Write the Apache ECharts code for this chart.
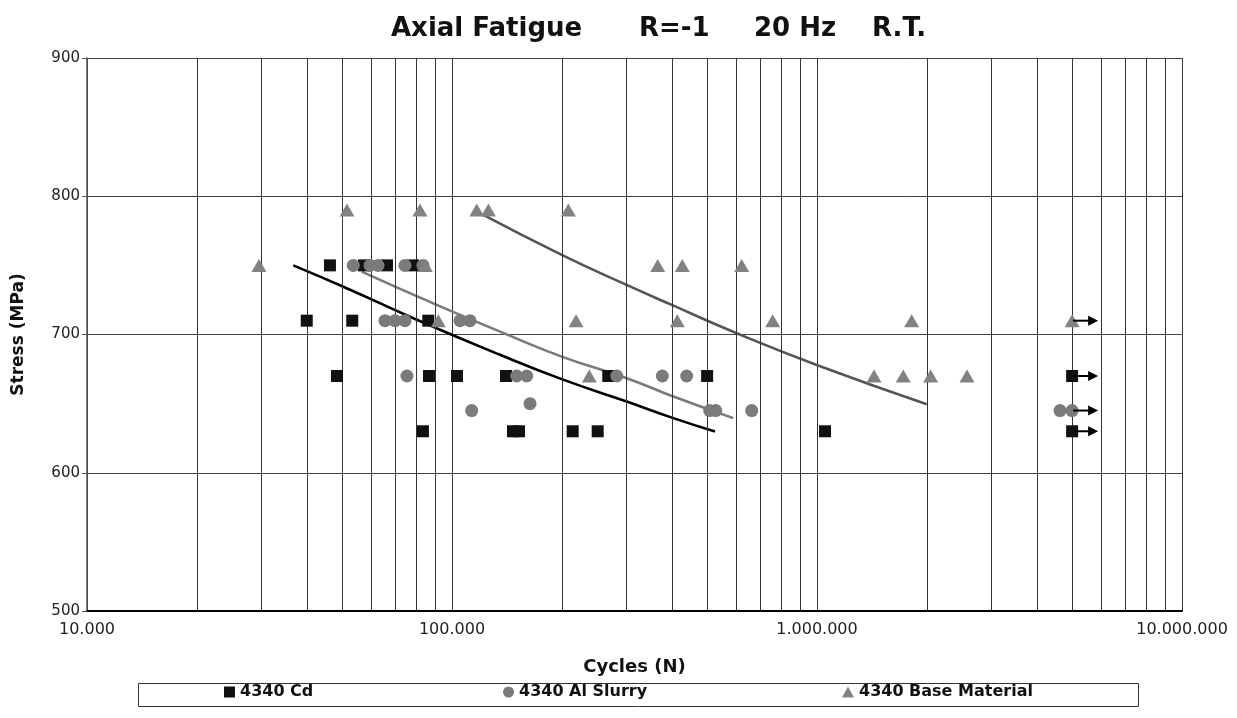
<!DOCTYPE html>
<html>
<head>
<meta charset="utf-8">
<script src="https://cdn.jsdelivr.net/npm/echarts@6/dist/echarts.min.js"></script>
<style>html,body{margin:0;padding:0;background:#fff;}#c{width:1237px;height:718px;}</style>
</head>
<body>
<div id="c"></div>
<script>
// ---- data ----
const cdCycles = [46300, 57400, 66350, 78200, 40000, 53300, 86100, 48400, 86500, 103200, 140600, 268000, 500000, 5000000, 83250, 146900, 152600, 214100, 250700, 1052000, 5000000];
const cdStress = [750, 750, 750, 750, 710, 710, 710, 670, 670, 670, 670, 670, 670, 670, 630, 630, 630, 630, 630, 630, 630];

const alCycles = [53650, 59630, 62700, 74330, 83250, 65530, 69800, 74330, 105200, 112000, 75270, 150400, 160200, 282700, 376900, 439500, 163600, 113200, 508000, 528000, 662300, 4633000, 5000000];
const alStress = [750, 750, 750, 750, 750, 710, 710, 710, 710, 710, 670, 670, 670, 670, 670, 670, 650, 645, 645, 645, 645, 645, 645];

const baseCycles = [51560, 81700, 116900, 125800, 208300, 29590, 84500, 366100, 427500, 621900, 91730, 218700, 414300, 756000, 1817000, 5000000, 237800, 1433000, 1723000, 2048000, 2576000];
const baseStress = [790, 790, 790, 790, 790, 750, 750, 750, 750, 750, 710, 710, 710, 710, 710, 710, 670, 670, 670, 670, 670];

const cdTrendCycles = [36740, 51460, 78340, 135400, 199800, 301000, 404000, 525500];
const cdTrendStress = [750, 733.5, 711.8, 685.3, 667.7, 651.5, 639.5, 629.8];

const alTrendCycles = [56560, 90800, 135400, 199800, 301000, 404000, 589700];
const alTrendStress = [745.5, 721.4, 702.1, 684.0, 668.4, 655.1, 639.5];

const baseTrendCycles = [121800, 199800, 297800, 400000, 602600, 998000, 1998000];
const baseTrendStress = [786.5, 757.6, 736.4, 721.4, 700.9, 678.0, 649.6];

const runoutCycles = [5000000, 5000000, 5000000, 5000000];
const runoutStress = [710, 670, 645, 630];

const minorGridCycles = [20000, 30000, 40000, 50000, 60000, 70000, 80000, 90000,
  200000, 300000, 400000, 500000, 600000, 700000, 800000, 900000,
  2000000, 3000000, 4000000, 5000000, 6000000, 7000000, 8000000, 9000000];

const yTicks = [500, 600, 700, 800, 900];
const titleParts = ['Axial Fatigue', 'R=-1', '20 Hz', 'R.T.'];

// ---- helpers ----
const zip = (a, b) => a.map((v, i) => [v, b[i]]);
const dotFmt = v => Math.round(v).toString().replace(/\B(?=(\d{3})+(?!\d))/g, '.');

const FONT = '"DejaVu Sans", Verdana, sans-serif';
const titleX = [391, 639, 754, 872];

const chart = echarts.init(document.getElementById('c'), null, {renderer: 'canvas'});

const legendText = {fontFamily: FONT, fontWeight: 'bold', fontSize: 16, color: '#111'};

const option = {
  backgroundColor: '#ffffff',
  animation: false,
  textStyle: {fontFamily: FONT},
  grid: {left: 87, right: 55, top: 58, bottom: 107, containLabel: false},
  xAxis: {
    type: 'log', logBase: 10, min: 10000, max: 10000000,
    name: 'Cycles (N)', nameLocation: 'middle', nameGap: 47,
    nameTextStyle: {fontFamily: FONT, fontWeight: 'bold', fontSize: 18, color: '#111'},
    axisLine: {show: true, onZero: false, lineStyle: {color: '#000', width: 2}},
    axisTick: {show: false},
    axisLabel: {formatter: dotFmt, fontFamily: FONT, fontSize: 16, color: '#222', margin: 11},
    splitLine: {show: true, lineStyle: {color: '#333', width: 1}}
  },
  yAxis: {
    type: 'value', min: yTicks[0], max: yTicks[yTicks.length - 1], interval: 100,
    name: 'Stress (MPa)', nameLocation: 'middle', nameGap: 60, nameRotate: 90,
    nameTextStyle: {fontFamily: FONT, fontWeight: 'bold', fontSize: 17, color: '#111'},
    axisLine: {show: true, lineStyle: {color: '#555', width: 1.5}},
    axisTick: {show: true, inside: false, length: 5, lineStyle: {color: '#555'}},
    axisLabel: {fontFamily: FONT, fontSize: 15, color: '#222', margin: 7},
    splitLine: {show: true, lineStyle: {color: '#444', width: 1}}
  },
  legend: [
    {data: ['4340 Cd'], left: 224, top: 684, itemWidth: 11, itemHeight: 11, itemGap: 4, padding: 0, textStyle: legendText},
    {data: ['4340 Al Slurry'], left: 503, top: 684, itemWidth: 11, itemHeight: 11, itemGap: 4, padding: 0, textStyle: legendText},
    {data: ['4340 Base Material'], left: 842, top: 684, itemWidth: 12, itemHeight: 11, itemGap: 4, padding: 0, textStyle: legendText}
  ],
  graphic: [
    {type: 'rect', left: 136, top: 681, z: 0, silent: true,
      shape: {width: 1000, height: 23}, style: {fill: 'none', stroke: '#333', lineWidth: 1}}
  ].concat(titleParts.map((t, i) => ({
    type: 'text', left: titleX[i], top: 16, z: 10, silent: true,
    style: {text: t, fill: '#111', font: 'bold 26px ' + FONT}
  }))),
  series: [
    {
      name: 'minorGrid', type: 'line', data: [], silent: true, z: 1,
      markLine: {
        silent: true, symbol: ['none', 'none'], label: {show: false},
        lineStyle: {color: '#333', width: 1, type: 'solid'},
        emphasis: {disabled: true},
        data: minorGridCycles.map(v => ({xAxis: v}))
      }
    },
    {
      name: 'cdTrend', type: 'line', data: zip(cdTrendCycles, cdTrendStress), smooth: true,
      showSymbol: false, symbol: 'none', silent: true, z: 4,
      lineStyle: {color: '#000', width: 2.6}
    },
    {
      name: 'alTrend', type: 'line', data: zip(alTrendCycles, alTrendStress), smooth: true,
      showSymbol: false, symbol: 'none', silent: true, z: 4,
      lineStyle: {color: '#7a7a7a', width: 2.6}
    },
    {
      name: 'baseTrend', type: 'line', data: zip(baseTrendCycles, baseTrendStress), smooth: true,
      showSymbol: false, symbol: 'none', silent: true, z: 4,
      lineStyle: {color: '#555', width: 2.6}
    },
    {
      name: '4340 Cd', type: 'scatter', data: zip(cdCycles, cdStress), symbol: 'rect', symbolSize: 12, z: 5,
      itemStyle: {color: '#111', opacity: 1}
    },
    {
      name: '4340 Al Slurry', type: 'scatter', data: zip(alCycles, alStress), symbol: 'circle', symbolSize: 13, z: 5,
      itemStyle: {color: '#7b7b7b', opacity: 1}
    },
    {
      name: '4340 Base Material', type: 'scatter', data: zip(baseCycles, baseStress), symbol: 'triangle', symbolSize: [15, 13], z: 5,
      itemStyle: {color: '#828282', opacity: 1}
    },
    {
      name: 'runout', type: 'custom', silent: true, z: 6,
      data: zip(runoutCycles, runoutStress),
      renderItem: function (params, api) {
        const p = api.coord([api.value(0), api.value(1)]);
        return {
          type: 'group',
          children: [
            {type: 'line', shape: {x1: p[0] + 1, y1: p[1], x2: p[0] + 18, y2: p[1]},
              style: {stroke: '#000', lineWidth: 2}},
            {type: 'polygon', shape: {points: [[p[0] + 16, p[1] - 5], [p[0] + 26, p[1]], [p[0] + 16, p[1] + 5]]},
              style: {fill: '#000'}}
          ]
        };
      }
    }
  ]
};
chart.setOption(option);
</script>
</body>
</html>
